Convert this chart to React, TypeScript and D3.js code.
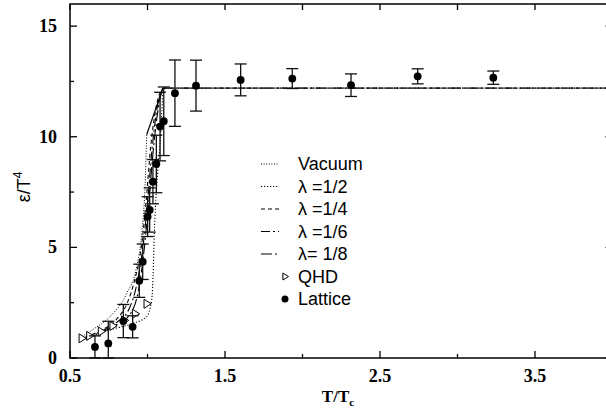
import React from "react";
import * as d3 from "d3";

// ---- data ----
const latticeT = [0.661, 0.747, 0.844, 0.904, 0.947, 0.969, 1.001, 1.014, 1.035, 1.057, 1.081, 1.105, 1.177, 1.313, 1.601, 1.934, 2.313, 2.743, 3.231];
const latticeE = [0.5, 0.66, 1.67, 1.41, 3.49, 4.35, 6.39, 6.69, 7.97, 8.77, 10.46, 10.7, 11.97, 12.31, 12.57, 12.63, 12.33, 12.73, 12.67];
const latticeErr = [0.5, 1.0, 0.75, 0.5, 0.75, 0.8, 0.9, 1.0, 1.0, 1.3, 1.55, 1.55, 1.5, 1.15, 0.72, 0.45, 0.51, 0.34, 0.3];

const qhdT = [0.576, 0.625, 0.7, 0.775, 0.85, 0.92, 0.995];
const qhdE = [0.89, 1.0, 1.2, 1.45, 1.7, 2.0, 2.45];

const vacuumT = [0.576, 0.65, 0.758, 0.866, 0.93, 0.963, 0.984, 0.995];
const vacuumE = [0.96, 1.3, 1.87, 2.92, 4.12, 5.63, 7.74, 10.1];
const vacuumJumpT = [0.995, 1.1];
const vacuumJumpE = [10.1, 12.2];

const lam2T = [0.576, 0.758, 0.908, 0.995, 1.027, 1.038, 1.044, 1.059, 1.081, 1.1];
const lam2E = [0.81, 1.27, 1.57, 1.87, 2.62, 4.13, 5.63, 7.74, 9.71, 12.2];

const lam4T = [0.6, 0.7, 0.8, 0.87, 0.92, 0.96, 0.99, 1.02, 1.06, 1.1];
const lam4E = [0.95, 1.25, 1.75, 2.5, 3.6, 5.0, 7.0, 9.5, 11.5, 12.2];

const lam6T = [0.6, 0.7, 0.8, 0.88, 0.93, 0.97, 1.0, 1.03, 1.07, 1.1];
const lam6E = [0.9, 1.2, 1.6, 2.2, 3.3, 5.0, 7.0, 9.5, 11.6, 12.2];

const lam8T = [0.6, 0.7, 0.8, 0.89, 0.94, 0.98, 1.01, 1.04, 1.08, 1.1];
const lam8E = [0.88, 1.15, 1.5, 2.0, 3.0, 5.0, 7.2, 9.6, 11.7, 12.2];

const plateauT = [1.1, 4.0];
const plateauE = [12.2, 12.2];

const xMajor = [0.5, 1.5, 2.5, 3.5];
const xMinor = [1.0, 2.0, 3.0];
const yMajor = [0, 5, 10, 15];
const yMinor = [2.5, 7.5, 12.5];

const legendLabels = ["Vacuum", "\u03bb =1/2", "\u03bb =1/4", "\u03bb =1/6", "\u03bb= 1/8", "QHD", "Lattice"];

export default function App() {
  const x = d3.scaleLinear().domain([0.5, 4.0]).range([70, 612.5]);
  const y = d3.scaleLinear().domain([0, 16]).range([358, 4]);
  const line = d3
    .line<[number, number]>()
    .x((d) => x(d[0]))
    .y((d) => y(d[1]))
    .curve(d3.curveMonotoneX);
  const zip = (a: number[], b: number[]) => a.map((v, i) => [v, b[i]] as [number, number]);

  const curves = [
    { t: vacuumT, e: vacuumE, dash: "1,1.6", w: 1 },
    { t: lam2T, e: lam2E, dash: "1.2,1.8", w: 1.1 },
    { t: lam4T, e: lam4E, dash: "4,3", w: 1.1 },
    { t: lam6T, e: lam6E, dash: "9,3,2,3", w: 1.1 },
    { t: lam8T, e: lam8E, dash: "11,3,2,3", w: 1.1 },
  ];

  const x0 = x.range()[0];
  const x1 = x.range()[1];
  const yTop = y.range()[1];
  const yBot = y.range()[0];
  const serif = "'Liberation Serif', 'Times New Roman', serif";
  const sans = "'Liberation Sans', Arial, sans-serif";

  const legendY0 = 164;
  const legendDy = 22.5;
  const tri = (cx: number, cy: number, s: number) =>
    `M${cx - s * 0.6},${cy - s} L${cx + s},${cy} L${cx - s * 0.6},${cy + s} Z`;

  return (
    <svg width={606} height={410} style={{ position: "absolute", left: 0, top: 0, background: "#fff" }}>
      <rect x={0} y={0} width={606} height={410} fill="#fff" />
      {/* curves */}
      {curves.map((c, i) => (
        <path key={i} d={line(zip(c.t, c.e)) || ""} fill="none" stroke="#000" strokeWidth={c.w} strokeDasharray={c.dash} />
      ))}
      {curves.map((c, i) => (
        <path key={"p" + i} d={line(zip(plateauT, plateauE)) || ""} fill="none" stroke="#000" strokeWidth={c.w} strokeDasharray={c.dash} opacity={0.6} />
      ))}
      <path d={line(zip(vacuumJumpT, vacuumJumpE)) || ""} fill="none" stroke="#000" strokeWidth={1.2} />
      {/* QHD */}
      {qhdT.map((t, i) => (
        <path key={"q" + i} d={tri(x(t), y(qhdE[i]), 4.5)} fill="#fff" stroke="#000" strokeWidth={1} />
      ))}
      {/* Lattice error bars */}
      {latticeT.map((t, i) => {
        const cx = x(t);
        const ya = y(latticeE[i] + latticeErr[i]);
        const yb = y(Math.max(0, latticeE[i] - latticeErr[i]));
        return (
          <g key={"e" + i} stroke="#111" strokeWidth={1.3}>
            <line x1={cx} x2={cx} y1={ya} y2={yb} />
            <line x1={cx - 6} x2={cx + 6} y1={ya} y2={ya} />
            <line x1={cx - 6} x2={cx + 6} y1={yb} y2={yb} />
          </g>
        );
      })}
      {latticeT.map((t, i) => (
        <circle key={"c" + i} cx={x(t)} cy={y(latticeE[i])} r={3.9} fill="#000" />
      ))}
      {/* frame */}
      <rect x={x0} y={yTop} width={x1 - x0} height={yBot - yTop} fill="none" stroke="#000" strokeWidth={1.5} />
      {/* x ticks */}
      {xMajor.concat(xMinor).map((t, i) => {
        const major = xMajor.includes(t);
        return (
          <g key={"xt" + i} stroke="#000" strokeWidth={1.3}>
            <line x1={x(t)} x2={x(t)} y1={yBot} y2={yBot - (major ? 7 : 4)} />
            <line x1={x(t)} x2={x(t)} y1={yTop} y2={yTop + 6} />
          </g>
        );
      })}
      {yMajor.concat(yMinor).map((v, i) => {
        const major = yMajor.includes(v);
        return (
          <g key={"yt" + i} stroke="#000" strokeWidth={1.3}>
            <line x1={x0} x2={x0 + (major ? 7 : 4)} y1={y(v)} y2={y(v)} />
            <line x1={x1} x2={x1 - (major ? 7 : 4)} y1={y(v)} y2={y(v)} />
          </g>
        );
      })}
      {xMajor.map((t) => (
        <text key={"xl" + t} x={x(t)} y={382} textAnchor="middle" fontFamily={serif} fontWeight="bold" fontSize={18}>
          {t.toFixed(1)}
        </text>
      ))}
      {yMajor.map((v) => (
        <text key={"yl" + v} x={57} y={y(v) + 6} textAnchor="end" fontFamily={serif} fontWeight="bold" fontSize={18}>
          {v}
        </text>
      ))}
      <text x={338} y={402} textAnchor="middle" fontFamily={serif} fontWeight="bold" fontSize={17}>
        T/T
        <tspan dy={4} fontSize={11}>c</tspan>
      </text>
      <text transform="translate(30,187) rotate(-90)" textAnchor="middle" fontFamily={sans} fontSize={18}>
        ε/T
        <tspan dy={-8} fontSize={12}>4</tspan>
      </text>
      {/* legend */}
      {legendLabels.map((lab, i) => {
        const ly = legendY0 + i * legendDy;
        let sym: React.ReactNode = null;
        if (i < 5) {
          const c = curves[i];
          sym = <line x1={261} x2={279} y1={ly} y2={ly} stroke="#000" strokeWidth={c.w} strokeDasharray={c.dash} />;
        } else if (i === 5) {
          sym = <path d={tri(285, ly, 3.5)} fill="#fff" stroke="#000" strokeWidth={1} />;
        } else {
          sym = <circle cx={285} cy={ly} r={3.5} fill="#000" />;
        }
        return (
          <g key={"lg" + i}>
            {sym}
            <text x={298} y={ly + 6} fontFamily={sans} fontSize={18}>
              {lab}
            </text>
          </g>
        );
      })}
    </svg>
  );
}
